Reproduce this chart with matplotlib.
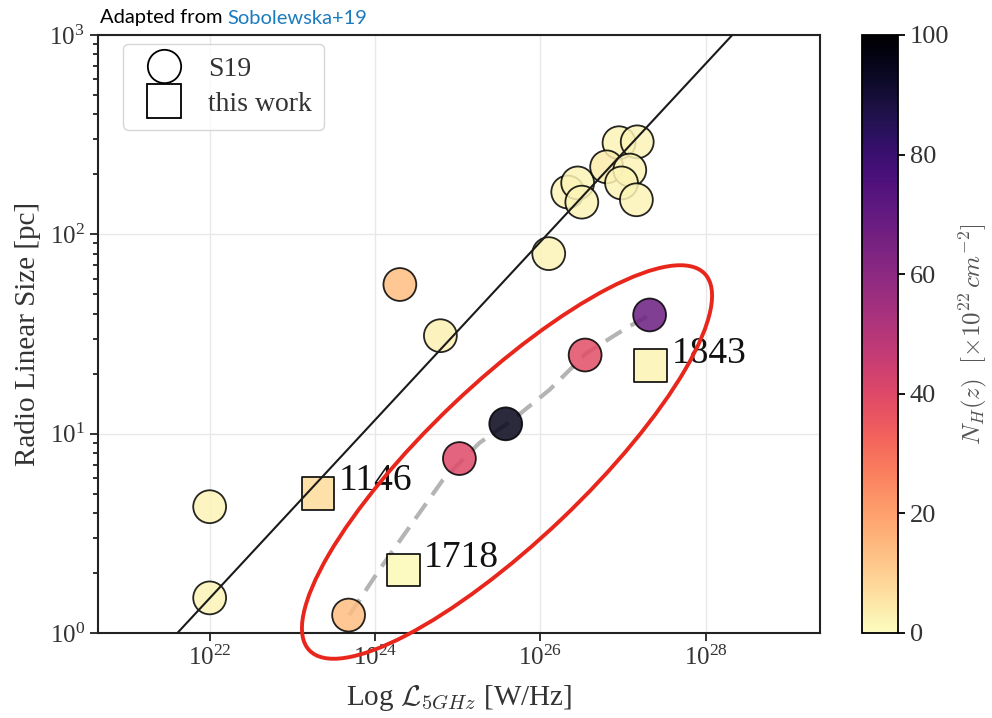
import numpy as np
import matplotlib.pyplot as plt
from matplotlib.lines import Line2D
from matplotlib.patches import Ellipse
from matplotlib.ticker import NullLocator

plt.rcParams['font.family'] = ['Liberation Serif', 'DejaVu Serif']
plt.rcParams['mathtext.fontset'] = 'cm'

# S19 sample: log L_5GHz [W/Hz], linear size [pc], N_H [1e22 cm^-2]
s19_logL = [22.0, 22.0, 24.30, 24.79, 26.10,
            26.33, 26.45, 26.50, 26.95, 27.17, 26.80, 27.08, 26.98, 27.16,
            23.68, 25.02, 25.58, 26.54, 27.32]
s19_size = [1.5, 4.3, 56, 31, 80,
            163, 181, 145, 288, 291, 218, 210, 181, 149,
            1.23, 7.5, 11.2, 24.8, 39.4]
s19_nh = [2, 2, 14, 3, 2,
          2, 2, 2, 2, 2, 4, 2, 2, 2,
          14, 40, 95, 39, 68]

# this work
work_logL = [23.31, 24.34, 27.33]
work_size = [5.0, 2.07, 21.9]
work_nh = [7, 1, 2]
work_names = ['1146', '1718', '1843']

# size-luminosity relation (end points at the frame)
fit_logL = [21.61, 28.32]
fit_size = [1.0, 1000.0]

# grey trend through the absorbed sources
trend_logL = [23.69, 24.05, 24.45, 24.82, 25.26, 25.66, 26.11, 26.56, 27.04, 27.32]
trend_size = [1.23, 2.07, 3.56, 5.86, 8.97, 11.7, 16.6, 25.4, 33.9, 39.4]

fig = plt.figure(figsize=(9.92, 7.18), dpi=100)
ax = fig.add_axes([0.0988, 0.1184, 0.7278, 0.8329])
cax = fig.add_axes([0.869, 0.1184, 0.036, 0.8329])

tick_col = '#333333'
ax.grid(True, which='major', color='#e8e8e8', lw=1, zorder=0)

ax.plot(10 ** np.array(trend_logL), trend_size, color='#b4b4b4', lw=3,
        dashes=(4.5, 2.5), zorder=2)
sc = ax.scatter(10 ** np.array(s19_logL), s19_size, c=s19_nh, cmap='magma_r',
                vmin=0, vmax=100, s=560, marker='o', edgecolors='black',
                linewidths=1.3, alpha=0.85, zorder=3)
ax.scatter(10 ** np.array(work_logL), work_size, c=work_nh, cmap='magma_r',
           vmin=0, vmax=100, s=560, marker='s', edgecolors='black',
           linewidths=1.3, alpha=0.9, zorder=3)
ax.plot(10 ** np.array(fit_logL), fit_size, color='#1a1a1a', lw=1.5, zorder=4)

for lx, sz, name in zip(work_logL, work_size, work_names):
    ax.annotate(name, (10 ** lx, sz), xytext=(15, 9), textcoords='offset points',
                fontsize=27, va='center', ha='left', color='#111111', zorder=5)

ax.set_xscale('log')
ax.set_yscale('log')
ax.set_xlim(10 ** 20.65, 10 ** 29.38)
ax.set_ylim(1, 1000)
ax.set_xticks([1e22, 1e24, 1e26, 1e28])
ax.xaxis.set_minor_locator(NullLocator())
ax.tick_params(which='both', direction='out', colors='#222222', labelcolor=tick_col,
               labelsize=18, width=1.3)
ax.tick_params(which='major', length=6)
ax.tick_params(which='minor', length=3.5)
for sp in ax.spines.values():
    sp.set_color('#222222')
    sp.set_linewidth(1.5)

ax.set_xlabel(r'Log $\mathcal{L}_{5GHz}$ [W/Hz]', fontsize=21, color=tick_col, labelpad=9)
ax.set_ylabel('Radio Linear Size [pc]', fontsize=21, color=tick_col, labelpad=6)

handles = [Line2D([], [], ls='none', marker='o', ms=24, mfc='white', mec='black', mew=1.3),
           Line2D([], [], ls='none', marker='s', ms=24, mfc='white', mec='black', mew=1.3)]
ax.legend(handles, ['S19', 'this work'], loc='upper left', fontsize=20,
          bbox_to_anchor=(0.035, 0.985), borderaxespad=0,
          labelcolor=tick_col, borderpad=0.45, handletextpad=0.6, labelspacing=0.35)

cb = fig.colorbar(sc, cax=cax)
cb.solids.set_alpha(1)
cb.set_ticks([0, 20, 40, 60, 80, 100])
cb.ax.tick_params(labelsize=19, labelcolor=tick_col, length=5, width=1.3)
cb.outline.set_linewidth(1.3)
cb.set_label(r'$N_H(z)\ \ [\times 10^{22}\, cm^{-2}]$', fontsize=18,
             color='#555555', labelpad=6)

# annotation around the absorbed sources
ell = Ellipse((5.07, 2.56), 5.46, 1.58, angle=43.6, transform=fig.dpi_scale_trans,
              fill=False, edgecolor='#e8261c', lw=2.8, clip_on=False, zorder=6)
fig.add_artist(ell)

t1 = fig.text(100 / 992, 1 - 18 / 718, 'Adapted from ', fontsize=14.5,
              family=['Lato', 'DejaVu Sans'], va='center', ha='left', color='black')
ax.annotate('Sobolewska+19', xy=(1, 0), xycoords=t1, fontsize=14.5,
            family=['Lato', 'DejaVu Sans'], va='bottom', ha='left',
            color='#1b7bbf', annotation_clip=False)

fig.savefig('out.png', dpi=100)
